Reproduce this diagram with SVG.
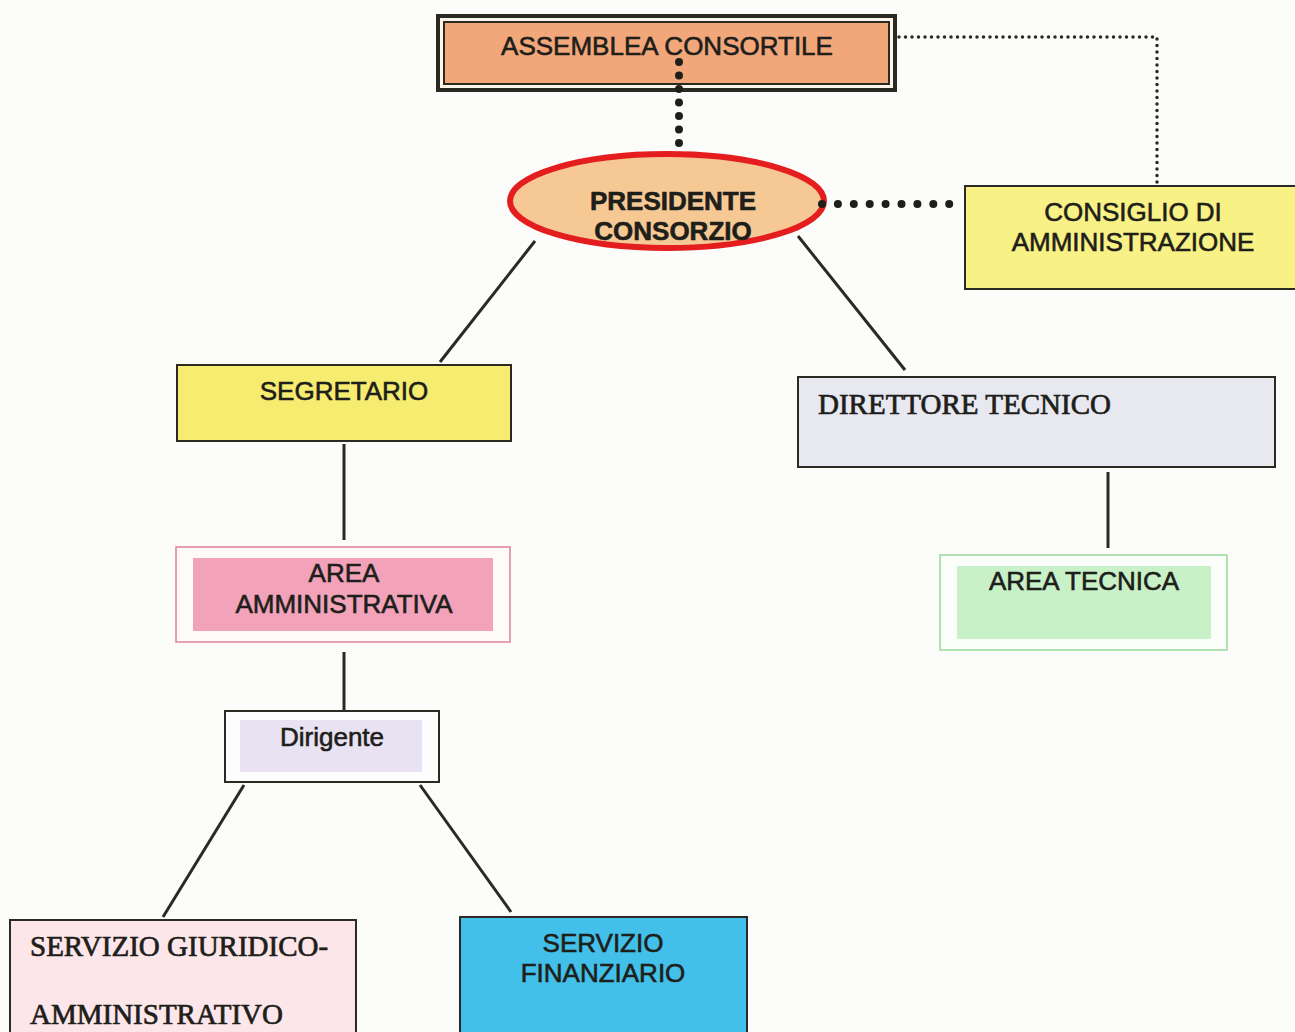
<svg xmlns="http://www.w3.org/2000/svg" width="1295" height="1032" viewBox="0 0 1295 1032">
<style>
.sans{font-family:"Liberation Sans",Arial,sans-serif;font-size:26px;fill:#1e1e1a;stroke:#1e1e1a;stroke-width:0.6;text-anchor:middle}
.serif{font-family:"Liberation Serif","Times New Roman",serif;font-size:29px;fill:#1e1e1a;stroke:#1e1e1a;stroke-width:0.7}
.box{stroke:#2a2a22;stroke-width:2}
.line{stroke:#2a2a22;stroke-width:3;fill:none}
</style>
<rect x="0" y="0" width="1295" height="1032" fill="#fcfcfa"/>
<g id="connectors">
  <line class="line" x1="535" y1="241" x2="440" y2="362"/>
  <line class="line" x1="798" y1="236" x2="905" y2="370"/>
  <line class="line" x1="344" y1="444" x2="344" y2="540"/>
  <line class="line" x1="344" y1="652" x2="344" y2="710"/>
  <line class="line" x1="1108" y1="472" x2="1108" y2="548"/>
  <line class="line" x1="244" y1="785" x2="163" y2="917"/>
  <line class="line" x1="420" y1="785" x2="511" y2="912"/>
  <polyline points="899,37 1157,37 1157,183" fill="none" stroke="#2a2a22" stroke-width="3.5" stroke-linecap="round" stroke-dasharray="0 6.5"/>
</g>
<g id="assemblea">
  <rect x="438" y="16" width="457" height="74" fill="#fdf4ea" stroke="#2a2a22" stroke-width="4"/>
  <rect x="444" y="22" width="445" height="62" fill="#f2a77a" stroke="#2a2a22" stroke-width="2"/>
  <text class="sans" x="667" y="55">ASSEMBLEA CONSORTILE</text>
</g>
<g id="presidente">
  <ellipse cx="667" cy="201" rx="157" ry="47" fill="#f6c994" stroke="#e41e1e" stroke-width="6"/>
  <text class="sans" x="673" y="210" font-weight="bold">PRESIDENTE</text>
  <text class="sans" x="673" y="240" font-weight="bold">CONSORZIO</text>
</g>
<g id="dotted-connectors">
  <line x1="679" y1="62" x2="679" y2="146" stroke="#1e1e1a" stroke-width="8" stroke-linecap="round" stroke-dasharray="0 13.5"/>
  <line x1="822" y1="204" x2="950" y2="204" stroke="#1e1e1a" stroke-width="8" stroke-linecap="round" stroke-dasharray="0 15.9"/>
</g>
<g id="consiglio">
  <rect class="box" x="965" y="186" width="332" height="103" fill="#f8f185"/>
  <text class="sans" x="1133" y="221">CONSIGLIO DI</text>
  <text class="sans" x="1133" y="251">AMMINISTRAZIONE</text>
</g>
<g id="segretario">
  <rect class="box" x="177" y="365" width="334" height="76" fill="#f6ec70"/>
  <text class="sans" x="344" y="400">SEGRETARIO</text>
</g>
<g id="direttore">
  <rect class="box" x="798" y="377" width="477" height="90" fill="#e8e8f1"/>
  <text class="serif" x="818" y="414">DIRETTORE TECNICO</text>
</g>
<g id="area-amministrativa">
  <rect x="176" y="547" width="334" height="95" fill="#fefafa" stroke="#e0809a" stroke-width="1.5"/>
  <rect x="193" y="558" width="300" height="73" fill="#f2a3ba"/>
  <text class="sans" x="344" y="582">AREA</text>
  <text class="sans" x="344" y="613">AMMINISTRATIVA</text>
</g>
<g id="area-tecnica">
  <rect x="940" y="555" width="287" height="95" fill="#fbfefb" stroke="#98d898" stroke-width="1.5"/>
  <rect x="957" y="566" width="254" height="73" fill="#c8f1c8"/>
  <text class="sans" x="1084" y="590">AREA TECNICA</text>
</g>
<g id="dirigente">
  <rect class="box" x="225" y="711" width="214" height="71" fill="#fdfdfd"/>
  <rect x="240" y="720" width="182" height="52" fill="#e8e2f2"/>
  <text class="sans" x="332" y="746">Dirigente</text>
</g>
<g id="servizio-giuridico">
  <rect class="box" x="10" y="920" width="346" height="116" fill="#fce6ea"/>
  <text class="serif" x="30" y="956">SERVIZIO GIURIDICO-</text>
  <text class="serif" x="30" y="1024">AMMINISTRATIVO</text>
</g>
<g id="servizio-finanziario">
  <rect class="box" x="460" y="917" width="287" height="119" fill="#42c0ea"/>
  <text class="sans" x="603" y="952">SERVIZIO</text>
  <text class="sans" x="603" y="982">FINANZIARIO</text>
</g>
</svg>
